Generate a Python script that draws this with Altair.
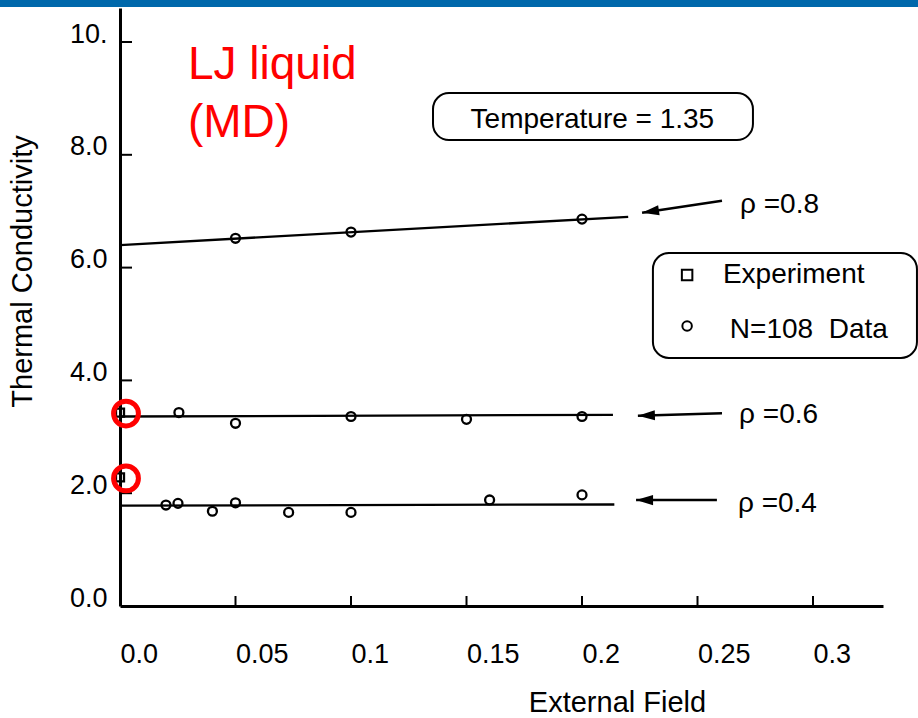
import altair as alt
import pandas as pd

# ---- data -----------------------------------------------------------------
# Fitted lines, one pair of end points per density
fit_density = ["0.8", "0.8", "0.6", "0.6", "0.4", "0.4"]
fit_field = [0.0, 0.22, 0.0, 0.2134, 0.0, 0.214]
fit_k = [6.40, 6.90, 3.36, 3.39, 1.78, 1.80]

# N=108 simulation results
sim_density = ["0.8"] * 3 + ["0.6"] * 5 + ["0.4"] * 8
sim_field = [0.05, 0.10, 0.20,
             0.0255, 0.05, 0.10, 0.15, 0.20,
             0.0199, 0.0251, 0.040, 0.05, 0.073, 0.10, 0.16, 0.20]
sim_k = [6.52, 6.63, 6.86,
         3.43, 3.24, 3.36, 3.31, 3.36,
         1.79, 1.82, 1.68, 1.83, 1.66, 1.66, 1.88, 1.97]

# Experimental values at zero field
exp_density = ["0.6", "0.4"]
exp_field = [0.0, 0.0]
exp_k = [3.43, 2.28]

# Density labels with their arrows (tail, tip, label anchor)
rho_labels = ["\u03c1 =0.8", "\u03c1 =0.6", "\u03c1 =0.4"]
arrow_tail_x = [0.2606, 0.2606, 0.2584]
arrow_tail_k = [7.186, 3.417, 1.879]
arrow_tip_x = [0.2260, 0.2242, 0.2234]
arrow_tip_k = [6.973, 3.374, 1.879]
arrow_angle = [351.5, 358.4, 0.0]
label_x = [0.2684, 0.2680, 0.2675]
label_k = [6.973, 3.245, 1.667]

x_ticks = [0.0, 0.05, 0.10, 0.15, 0.20, 0.25, 0.30]
y_ticks = [0, 2, 4, 6, 8, 10]

FONT = "Liberation Sans"

# ---- scales & axes ---------------------------------------------------------
xs = alt.Scale(domain=[0, 0.3303], nice=False, zero=False)
ys = alt.Scale(domain=[0, 10.603], nice=False, zero=False)

x_axis = alt.Axis(
    title="External Field", values=x_ticks,
    labelExpr="datum.value == 0 ? '0.0' : format(datum.value, '~g')",
    grid=False, ticks=False, tickSize=0, labelFlush=False, labelOverlap=False,
    labelAlign="left", labelBaseline="alphabetic", labelPadding=56,
    labelFont=FONT, labelFontSize=27, labelColor="black",
    domainColor="black", domainWidth=3,
    titleFont=FONT, titleFontSize=29, titleFontWeight="normal", titleColor="black",
    titleX=497, titleY=105, titleAlign="center", titleBaseline="alphabetic",
)
y_axis = alt.Axis(
    title="Thermal Conductivity", values=y_ticks,
    labelExpr="datum.value == 10 ? '10.' : format(datum.value, '.1f')",
    grid=False, ticks=False, tickSize=0, labelFlush=False, labelOverlap=False,
    labelAlign="right", labelBaseline="alphabetic", labelPadding=13,
    labelFont=FONT, labelFontSize=27, labelColor="black",
    domainColor="black", domainWidth=3,
    titleFont=FONT, titleFontSize=29, titleFontWeight="normal", titleColor="black",
    titleAngle=270, titleX=-98, titleY=263, titleAlign="center", titleBaseline="middle",
)


def X(f):
    return alt.X(f, type="quantitative", scale=xs, axis=x_axis)


def Y(f):
    return alt.Y(f, type="quantitative", scale=ys, axis=y_axis)


fit = pd.DataFrame({"density": fit_density, "field": fit_field, "k": fit_k})
sim = pd.DataFrame({"density": sim_density, "field": sim_field, "k": sim_k})
exp = pd.DataFrame({"density": exp_density, "field": exp_field, "k": exp_k})
arrows = pd.DataFrame({
    "label": rho_labels, "tx": arrow_tail_x, "tk": arrow_tail_k,
    "hx": arrow_tip_x, "hk": arrow_tip_k, "ang": arrow_angle,
    "lx": label_x, "lk": label_k,
})
xt = pd.DataFrame({"field": x_ticks[1:]})
yt = pd.DataFrame({"k": y_ticks[1:]})
one = pd.DataFrame({"d": [0]})

# ---- layers ----------------------------------------------------------------
top_bar = alt.Chart(one).mark_rect(color="#0068AB").encode(
    x=alt.value(-120), x2=alt.value(798), y=alt.value(-8), y2=alt.value(-1)
)

x_tick_marks = alt.Chart(xt).mark_rule(color="black", strokeWidth=2).encode(
    x=X("field"), y=alt.value(598), y2=alt.value(588)
)
y_tick_marks = alt.Chart(yt).mark_rule(color="black", strokeWidth=2).encode(
    y=Y("k"), x=alt.value(0), x2=alt.value(12)
)

fit_lines = alt.Chart(fit).mark_line(color="black", strokeWidth=2.3).encode(
    x=X("field"), y=Y("k"), detail="density:N"
)

sim_points = alt.Chart(sim).mark_point(
    shape="circle", size=80, filled=False, color="black", strokeWidth=2.3, opacity=1
).encode(x=X("field"), y=Y("k"))

exp_points = alt.Chart(exp).mark_point(
    shape="square", size=64, filled=False, color="black", strokeWidth=2.3, opacity=1
).encode(x=X("field"), y=Y("k"))

exp_rings = alt.Chart(exp).mark_point(
    shape="circle", size=616, filled=False, color="#FF0000", strokeWidth=5,
    opacity=1, xOffset=6, yOffset=1
).encode(x=X("field"), y=Y("k"))

arrow_shafts = alt.Chart(arrows).mark_rule(color="black", strokeWidth=2.5).encode(
    x=X("tx"), y=Y("tk"), x2="hx", y2="hk"
)
arrow_heads = alt.Chart(arrows).mark_point(
    shape="M0,0L2,-0.6L2,0.6Z", size=289, filled=True, color="black", opacity=1
).encode(x=X("hx"), y=Y("hk"), angle=alt.Angle("ang:Q", scale=None))

rho_text = alt.Chart(arrows).mark_text(
    font=FONT, fontSize=28, align="left", baseline="alphabetic", color="black"
).encode(x=X("lx"), y=Y("lk"), text="label:N")

# Temperature box
temp_df = pd.DataFrame({"x0": [0.1355], "x1": [0.274], "k0": [9.096], "k1": [8.262],
                        "cx": [0.2045], "bk": [8.47], "t": ["Temperature = 1.35"]})
temp_box = alt.Chart(temp_df).mark_rect(
    fill="white", stroke="black", strokeWidth=2, cornerRadius=16
).encode(x=X("x0"), x2="x1", y=Y("k0"), y2="k1")
temp_text = alt.Chart(temp_df).mark_text(
    font=FONT, fontSize=28, align="center", baseline="alphabetic", color="black"
).encode(x=X("cx"), y=Y("bk"), text="t:N")

# Legend box
leg_df = pd.DataFrame({"x0": [0.2307], "x1": [0.345], "k0": [6.259], "k1": [4.397]})
leg_box = alt.Chart(leg_df).mark_rect(
    fill="white", stroke="black", strokeWidth=2, cornerRadius=16
).encode(x=X("x0"), x2="x1", y=Y("k0"), y2="k1")
leg_items = pd.DataFrame({
    "sx": [0.2455, 0.2455], "sk": [5.869, 4.965],
    "tx": [0.261, 0.264], "tk": [5.72, 4.746],
    "t": ["Experiment", "N=108\u00a0 Data"], "shape": ["square", "circle"],
})
leg_square = alt.Chart(leg_items.iloc[[0]]).mark_point(
    shape="square", size=110, filled=False, color="black", strokeWidth=2, opacity=1
).encode(x=X("sx"), y=Y("sk"))
leg_circle = alt.Chart(leg_items.iloc[[1]]).mark_point(
    shape="circle", size=90, filled=False, color="black", strokeWidth=2, opacity=1
).encode(x=X("sx"), y=Y("sk"))
leg_text = alt.Chart(leg_items).mark_text(
    font=FONT, fontSize=28, align="left", baseline="alphabetic", color="black"
).encode(x=X("tx"), y=Y("tk"), text="t:N")

# Red heading
head_df = pd.DataFrame({"x": [0.0294, 0.0294], "k": [9.339, 8.321], "t": ["LJ liquid", "(MD)"]})
heading = alt.Chart(head_df).mark_text(
    font=FONT, fontSize=46, align="left", baseline="alphabetic", color="#FF0000"
).encode(x=X("x"), y=Y("k"), text="t:N")

chart = alt.layer(
    top_bar, x_tick_marks, y_tick_marks, fit_lines, exp_points, sim_points,
    exp_rings, arrow_shafts, arrow_heads, rho_text, temp_box, temp_text,
    leg_box, leg_square, leg_circle, leg_text, heading,
).properties(
    width=763, height=598,
    autosize=alt.AutoSizeParams(type="none"),
    padding={"left": 120, "top": 8, "right": 35, "bottom": 112},
    background="white",
).configure_view(stroke=None)

chart.save("out.html", embed_options={"renderer": "svg", "actions": False})
